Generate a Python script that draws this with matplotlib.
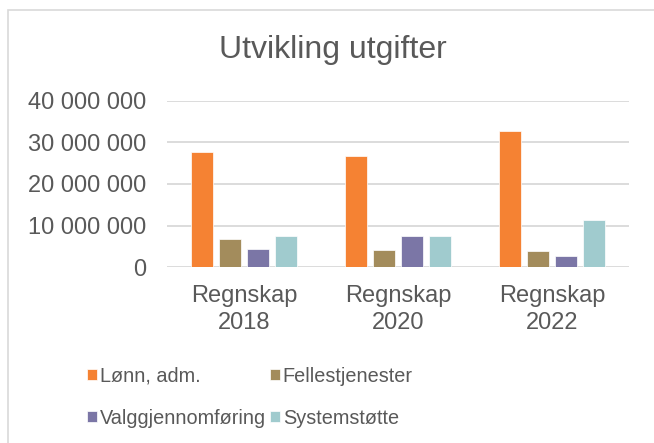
import matplotlib.pyplot as plt
import numpy as np
from matplotlib.patches import Rectangle

plt.rcParams['font.family'] = ['Liberation Sans', 'DejaVu Sans']

categories = ['Regnskap\n2018', 'Regnskap\n2020', 'Regnskap\n2022']
series = ['Lønn, adm.', 'Fellestjenester', 'Valggjennomføring', 'Systemstøtte']
lonn = [27760000, 26720000, 32720000]
felles = [6880000, 4160000, 3840000]
valg = [4320000, 7520000, 2720000]
system = [7520000, 7520000, 11280000]
colors = ['#F58233', '#A38C5C', '#7B76A6', '#A0CBCE']
yticks = [0, 10000000, 20000000, 30000000, 40000000]

txt = '#595959'
fig = plt.figure(figsize=(6.54, 4.43), dpi=100)
ax = fig.add_axes([167/654, 1 - 267.3/443, (629-167)/654, (267.3-100.7)/443])

x = np.arange(len(categories))
w = 0.143
step = 0.182
bars = []
for i, (vals, name) in enumerate(zip([lonn, felles, valg, system], series)):
    b = ax.bar(x + (i - 1.5) * step, vals, width=w, color=colors[i], label=name,
               edgecolor='white', linewidth=0.5, zorder=3)
    bars.append(b)

ax.set_xlim(-0.5, 2.5)
ax.set_ylim(0, 40000000)
ax.set_yticks(yticks)
ax.set_yticklabels([f'{v:,}'.replace(',', ' ') for v in yticks])
ax.set_xticks(x)
ax.set_xticklabels(categories, linespacing=1.3)
ax.tick_params(length=0, labelsize=17, colors=txt)
ax.tick_params(axis='y', pad=15)
ax.tick_params(axis='x', pad=13)
ax.grid(axis='y', color='#D9D9D9', linewidth=1.3, zorder=0)
for s in ax.spines.values():
    s.set_visible(False)

fig.text(333/654, 1 - 50/443, 'Utvikling utgifter', ha='center', va='center',
         fontsize=23, color=txt)

# row-wise order like Excel
order = [0, 2, 1, 3]
leg = fig.legend([bars[i] for i in order], [series[i] for i in order],
                 loc='upper left', bbox_to_anchor=(69/654, 1 - 349/443), ncol=2,
                 frameon=False, fontsize=14.3, handlelength=0.5, handleheight=0.5,
                 handletextpad=0.15, columnspacing=0.2, labelspacing=1.15)
for t in leg.get_texts():
    t.set_color(txt)

fig.patches.append(Rectangle((8/654, -0.1), 1.2, 1 - 10/443 + 0.1,
                             transform=fig.transFigure, fill=False,
                             edgecolor='#D9D9D9', linewidth=1.2))

fig.savefig('out.png', dpi=100)
